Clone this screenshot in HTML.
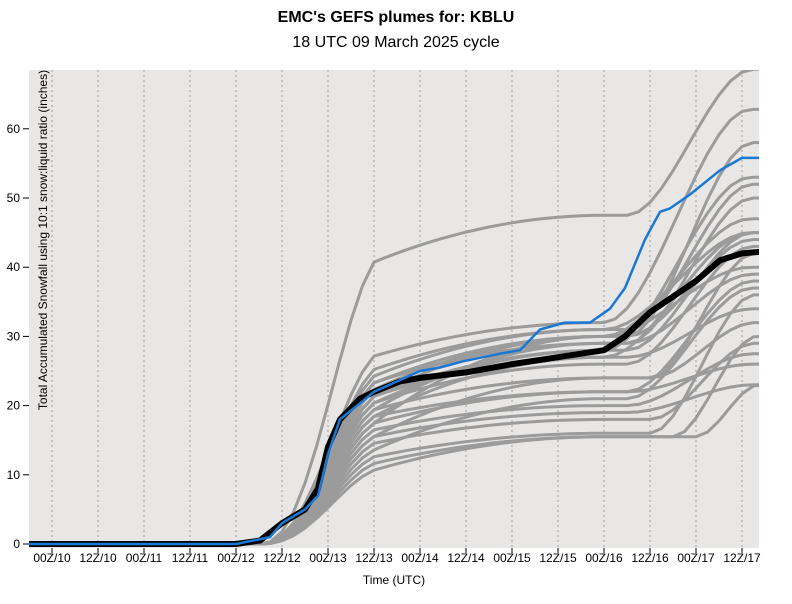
<!DOCTYPE html>
<html><head><meta charset="utf-8"><style>
body{margin:0;background:#fff;}
svg text{font-family:"Liberation Sans",Arial,sans-serif;}
</style></head><body>
<svg id="s" width="792" height="599" xmlns="http://www.w3.org/2000/svg">
<text x="396" y="22" text-anchor="middle" font-size="16" font-weight="bold">EMC's GEFS plumes for: KBLU</text>
<text x="396" y="47" text-anchor="middle" font-size="16">18 UTC 09 March 2025 cycle</text>
<defs><clipPath id="c"><rect x="29" y="70" width="730" height="478"/></clipPath></defs>
<rect x="29" y="70" width="730" height="478" fill="#e8e7e6"/>
<g id="grid" stroke="#aaa" stroke-width="1.2" stroke-dasharray="2,3"></g>
<g id="series" clip-path="url(#c)" fill="none" stroke-linejoin="round" stroke-linecap="round"></g>
<g id="axes" font-size="12"></g>
<text x="394" y="584" text-anchor="middle" font-size="12">Time (UTC)</text>
<text transform="translate(47,240) rotate(-90)" text-anchor="middle" font-size="12">Total Accumulated Snowfall using 10:1 snow:liquid ratio (inches)</text>
</svg>
<script>
var NS="http://www.w3.org/2000/svg";
function el(p,t,a,txt){var e=document.createElementNS(NS,t);for(var k in a)e.setAttribute(k,a[k]);if(txt!=null)e.textContent=txt;p.appendChild(e);return e;}
var grid=document.getElementById('grid'),axes=document.getElementById('axes'),ser=document.getElementById('series');
var labels=["00Z/10","12Z/10","00Z/11","12Z/11","00Z/12","12Z/12","00Z/13","12Z/13","00Z/14","12Z/14","00Z/15","12Z/15","00Z/16","12Z/16","00Z/17","12Z/17"];
for(var k=0;k<16;k++){var x=52+46*k;
 el(grid,'line',{x1:x,y1:70,x2:x,y2:548});
 el(axes,'line',{x1:x,y1:548,x2:x,y2:553,stroke:'#000'});
 el(axes,'text',{x:x,y:562,'text-anchor':'middle'},labels[k]);}
function Y(v){return 544-v*6.92;}
for(var v=0;v<=60;v+=10){el(axes,'line',{x1:23,y1:Y(v),x2:29,y2:Y(v),stroke:'#000'});
 el(axes,'text',{x:20,y:Y(v)+4,'text-anchor':'end'},v);}
function X(i){return 29+23*i;}
function ss(u){u=Math.max(0,Math.min(1,u));return u*u*(3-2*u);}
var mem=[[25,42,47.5,68.6,26],[18,28,32,62.8,25],[15,24,30,58,26],[12,22,28,53,25],[14,25,31,52,26],[10,20,29,50,26],[13,22,30,47,25],[12,21,28,45,26],[9,19,27,45,25],[8,18,30,44,26],[11,21,26,43,26],[7,16,24,42,27],[12,23,30,40,25],[10,18,22,38,26],[6,14,21,37,26],[5,12,15.5,30,28],[4,11,15.5,23,29],[7,13,16,36,27],[8,17,20,27.5,26],[9,19,22,26,26],[10,20,24,32,27],[6,15,18,29,27],[11,22,27,34,26],[9,16,19,23,26],[12,24,29,39,26],[14,26,31,45,25]];
function series(m){var a15=m[1],b=m[2],c=m[3],r=m[4],pts=[];
 for(var i=0;i<=33;i+=0.5){var v;
  if(i<=15){var u=(i-10)/5.5;v=a15*Math.pow(ss(u),1.3)*(u>=1?1:1);if(i==15)v=Math.max(v,a15*0.97);}
  else{var t=Math.min(1,(i-15)/10);v=a15*0.97+(b-a15*0.97)*(1-(1-t)*(1-t));}
  if(i>r){var t2=Math.min(1,(i-r)/(32-r));v=b+(c-b)*(1-(1-t2)*(1-t2)*(1-t2)*0.0-(1-t2)*(1-t2))*1;v=b+(c-b)*ss(t2*1.1);}
  pts.push(X(i)+','+Y(v).toFixed(1));}
 return pts.join(' ');}
mem.forEach(function(m){el(ser,'polyline',{points:series(m),stroke:'#9b9b9b','stroke-width':3});});
function P(arr){return arr.map(function(p){return p[0]+','+Y(p[1]).toFixed(1);}).join(' ');}
var mean=[[29,0],[236,0],[260,0.5],[282,3],[305,5],[318,8],[328,14],[340,18],[360,21],[374,22],[400,23.5],[420,24],[466,24.8],[512,26],[558,27],[604,28],[625,30],[650,33.5],[696,38],[720,41],[742,42],[765,42.3]];
var blue=[[29,0],[236,0],[270,1],[282,3],[305,5],[318,7],[328,13],[340,18],[374,22],[420,25],[440,25.5],[466,26.5],[500,27.5],[520,28],[540,31],[565,32],[590,32],[610,34],[625,37],[645,44],[660,48],[670,48.5],[690,50.5],[720,54],[742,55.8],[765,55.8]];
el(ser,'polyline',{points:P(mean),stroke:'#000','stroke-width':6});
el(ser,'polyline',{points:P(blue),stroke:'#1a78d4','stroke-width':2.5});
</script>
</body></html>
